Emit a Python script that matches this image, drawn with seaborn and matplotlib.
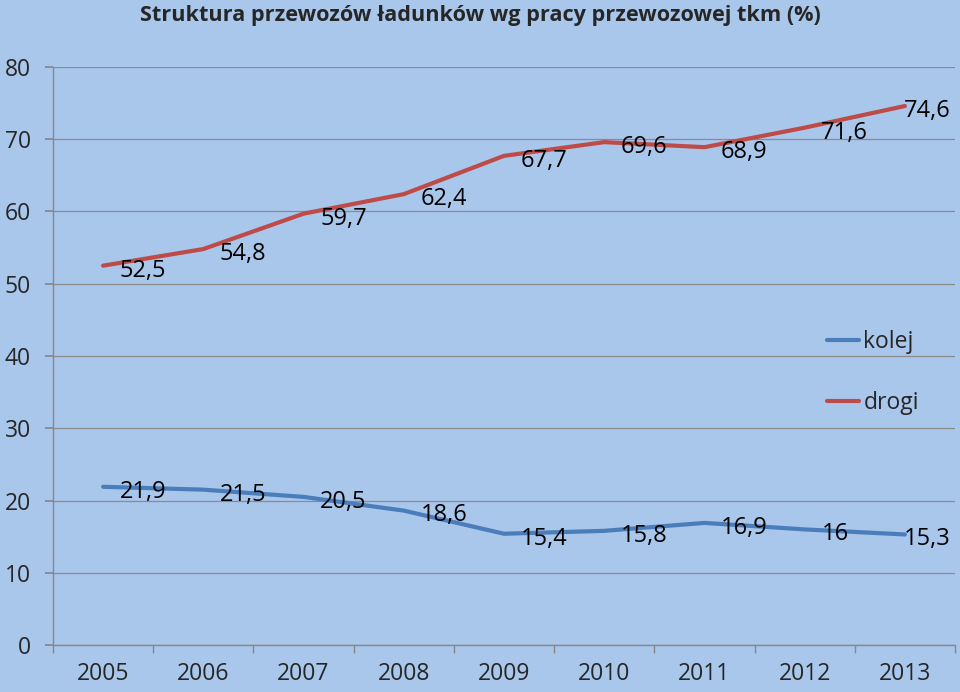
import matplotlib
matplotlib.use("Agg")
import matplotlib.pyplot as plt
import seaborn as sns
import pandas as pd
import numpy as np

years = ["2005", "2006", "2007", "2008", "2009", "2010", "2011", "2012", "2013"]
kolej = [21.9, 21.5, 20.5, 18.6, 15.4, 15.8, 16.9, 16, 15.3]
drogi = [52.5, 54.8, 59.7, 62.4, 67.7, 69.6, 68.9, 71.6, 74.6]
series_names = ["kolej", "drogi"]
colors = {"kolej": "#4A7EBB", "drogi": "#BE4B48"}

rows = []
for name, vals in zip(series_names, [kolej, drogi]):
    for i, v in enumerate(vals):
        rows.append({"pos": i, "year": years[i], "value": v, "series": name})
df = pd.DataFrame(rows)

sns.set_theme(style="white")
bg = "#A9C6EB"
plt.rcParams["font.family"] = ["Open Sans", "DejaVu Sans"]

fig = plt.figure(figsize=(9.6, 6.92), dpi=100, facecolor=bg)
ax = fig.add_axes([0.0552, 0.0679, 0.9396, 0.8353], facecolor=bg)

sns.lineplot(data=df, x="pos", y="value", hue="series", palette=colors,
             linewidth=3, ax=ax, legend=True)

n = len(years)
for name, vals in zip(series_names, [kolej, drogi]):
    for i, v in enumerate(vals):
        lab = ("%g" % v).replace(".", ",")
        dx = 12 if i < n - 1 else -1
        ax.annotate(lab, (i, v), xytext=(dx, -3.5), textcoords="offset points",
                    ha="left", va="center", fontsize=17, color="black")

ax.set_xlim(-0.5, 8.5)
ax.set_ylim(0, 80)
ax.set_yticks(range(0, 81, 10))
ax.set_yticklabels([str(v) for v in range(0, 81, 10)], fontsize=16.5)
ax.set_xticks(range(len(years)))
ax.set_xticklabels(years, fontsize=16.5)
ax.set_xticks(np.arange(-0.5, 9, 1), minor=True)
ax.tick_params(axis="x", which="major", length=0, pad=12)
ax.tick_params(axis="x", which="minor", length=6, color="#888888", direction="out", bottom=True)
ax.tick_params(axis="y", length=6, color="#888888", direction="out", left=True, pad=10)
ax.grid(axis="y", color="#8C8C8C", linewidth=0.9)
ax.set_axisbelow(True)
for s in ["top", "right"]:
    ax.spines[s].set_visible(False)
for s in ["left", "bottom"]:
    ax.spines[s].set_color("#888888")
    ax.spines[s].set_linewidth(1)
ax.set_xlabel("")
ax.set_ylabel("")

leg = ax.legend(loc="upper left", bbox_to_anchor=(0.835, 0.58), frameon=False,
                fontsize=16.5, handlelength=1.4, handletextpad=0.2, labelspacing=1.6)

fig.text(0.5, 0.978, "Struktura przewozów ładunków wg pracy przewozowej tkm (%)",
         ha="center", va="center", fontsize=15.6, fontweight="bold")

fig.savefig("out.png", dpi=100, facecolor=bg)
